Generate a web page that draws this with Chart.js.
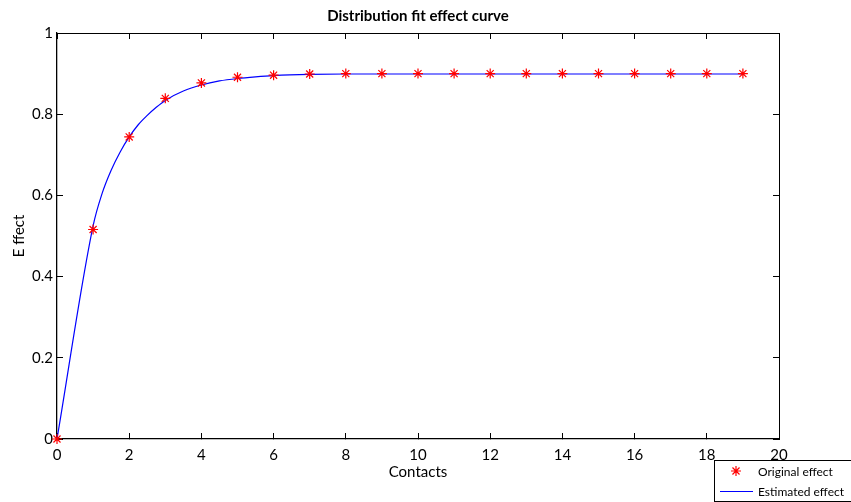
<!DOCTYPE html>
<html>
<head>
<meta charset="utf-8">
<script src="https://cdn.jsdelivr.net/npm/chart.js@4"></script>
<style>
  html, body { margin: 0; padding: 0; background: #fff; }
  #wrap { width: 851px; height: 502px; }
</style>
</head>
<body>
<div id="wrap"><canvas id="fitChart" width="851" height="502"></canvas></div>
<script>
// data
const contacts = [0, 1, 2, 3, 4, 5, 6, 7, 8, 9, 10, 11, 12, 13, 14, 15, 16, 17, 18, 19]
const originalEffect = [0, 0.516, 0.744, 0.839, 0.877, 0.891, 0.896, 0.899, 0.9, 0.9, 0.9, 0.9, 0.9, 0.9, 0.9, 0.9, 0.9, 0.9, 0.9, 0.9]
const fitContacts = [0, 1, 1.25, 1.5, 1.75, 2, 2.25, 2.5, 2.75, 3, 3.5, 4, 4.5, 5, 5.5, 6, 7, 8, 19]
const estimatedEffect = [0, 0.525, 0.605, 0.662, 0.707, 0.744, 0.774, 0.797, 0.817, 0.834, 0.857, 0.872, 0.882, 0.888, 0.892, 0.895, 0.898, 0.899, 0.899]
const xTicks = [0, 2, 4, 6, 8, 10, 12, 14, 16, 18, 20]
const yTicks = [0, 0.2, 0.4, 0.6, 0.8, 1]
const labels = ["Original effect", "Estimated effect"]

const FONT = "Lato, 'Open Sans', sans-serif"

function setTicks(values) {
  return (scale) => {
    scale.ticks = values.map((v) => ({ value: v }))
  }
}

// title + legend box drawn on top of the chart
const decorations = {
  id: "decorations",
  afterDraw(chart) {
    const ctx = chart.ctx
    const area = chart.chartArea
    ctx.save()
    ctx.fillStyle = "#000"
    ctx.font = "bold 15px " + FONT
    ctx.textAlign = "center"
    ctx.textBaseline = "middle"
    ctx.fillText("Distribution fit effect curve", (area.left + area.right) / 2, 16)

    // legend
    const bx = 714, by = 460, bw = 140, bh = 41
    ctx.fillStyle = "#fff"
    ctx.fillRect(bx, by, bw, bh)
    ctx.strokeStyle = "#000"
    ctx.lineWidth = 1
    ctx.strokeRect(bx + 0.5, by + 0.5, bw, bh)

    const pt = chart.data.datasets[0]
    ctx.strokeStyle = pt.borderColor
    ctx.lineWidth = 1.2
    const cx = 736, cy = 471, r = 5
    ctx.beginPath()
    for (let i = 0; i < 4; i++) {
      const a = (i * Math.PI) / 4
      ctx.moveTo(cx - r * Math.cos(a), cy - r * Math.sin(a))
      ctx.lineTo(cx + r * Math.cos(a), cy + r * Math.sin(a))
    }
    ctx.stroke()

    ctx.strokeStyle = chart.data.datasets[1].borderColor
    ctx.lineWidth = 1
    ctx.beginPath()
    ctx.moveTo(720, 491.5)
    ctx.lineTo(753, 491.5)
    ctx.stroke()

    ctx.fillStyle = "#000"
    ctx.font = "12px " + FONT
    ctx.textAlign = "left"
    ctx.fillText(labels[0], 758, 472)
    ctx.fillText(labels[1], 758, 492)
    ctx.restore()
  },
}

const boxAxis = {
  border: { display: true, color: "#000", width: 1 },
  grid: { drawOnChartArea: false, tickLength: -6, color: "#000" },
  ticks: { display: false },
}

new Chart(document.getElementById("fitChart"), {
  type: "scatter",
  data: {
    datasets: [
      {
        label: labels[0],
        data: contacts.map((c, i) => ({ x: c, y: originalEffect[i] })),
        pointStyle: "star",
        pointRadius: 5,
        borderColor: "#ff0000",
        backgroundColor: "#ff0000",
        borderWidth: 1.2,
        showLine: false,
        clip: false,
        order: 0,
      },
      {
        label: labels[1],
        data: fitContacts.map((c, i) => ({ x: c, y: estimatedEffect[i] })),
        showLine: true,
        borderColor: "#0000ff",
        borderWidth: 1.2,
        pointRadius: 0,
        cubicInterpolationMode: "monotone",
        clip: false,
        order: 1,
      },
    ],
  },
  options: {
    responsive: false,
    animation: false,
    layout: { padding: { top: 33, right: 72, left: 0, bottom: 0 } },
    plugins: {
      legend: { display: false },
      title: { display: false },
      tooltip: { enabled: false },
    },
    scales: {
      x: {
        type: "linear",
        position: "bottom",
        min: 0,
        max: 20,
        afterBuildTicks: setTicks(xTicks),
        afterFit: (s) => { s.height = 63 },
        border: { display: true, color: "#000", width: 1.3 },
        grid: { drawOnChartArea: false, tickLength: -6, color: "#000" },
        ticks: { color: "#000", font: { family: FONT, size: 15 }, padding: 13, maxRotation: 0, callback: (v) => String(v) },
        title: {
          display: true,
          text: "Contacts",
          color: "#000",
          font: { family: FONT, size: 15 },
          padding: { top: 0, bottom: 21 },
        },
      },
      y: {
        type: "linear",
        position: "left",
        min: 0,
        max: 1,
        afterBuildTicks: setTicks(yTicks),
        afterFit: (s) => { s.width = 57 },
        border: { display: true, color: "#000", width: 1.3 },
        grid: { drawOnChartArea: false, tickLength: -6, color: "#000" },
        ticks: { color: "#000", font: { family: FONT, size: 15 }, padding: 10, callback: (v) => String(v) },
        title: {
          display: true,
          text: "E ffect",
          color: "#000",
          font: { family: FONT, size: 15 },
          padding: { top: 10, bottom: 0 },
        },
      },
      x2: {
        ...boxAxis,
        type: "linear",
        position: "top",
        min: 0,
        max: 20,
        afterBuildTicks: setTicks(xTicks),
        afterFit: (s) => { s.height = 0 },
      },
      y2: {
        ...boxAxis,
        type: "linear",
        position: "right",
        min: 0,
        max: 1,
        afterBuildTicks: setTicks(yTicks),
        afterFit: (s) => { s.width = 0 },
      },
    },
  },
  plugins: [decorations],
})
</script>
</body>
</html>
